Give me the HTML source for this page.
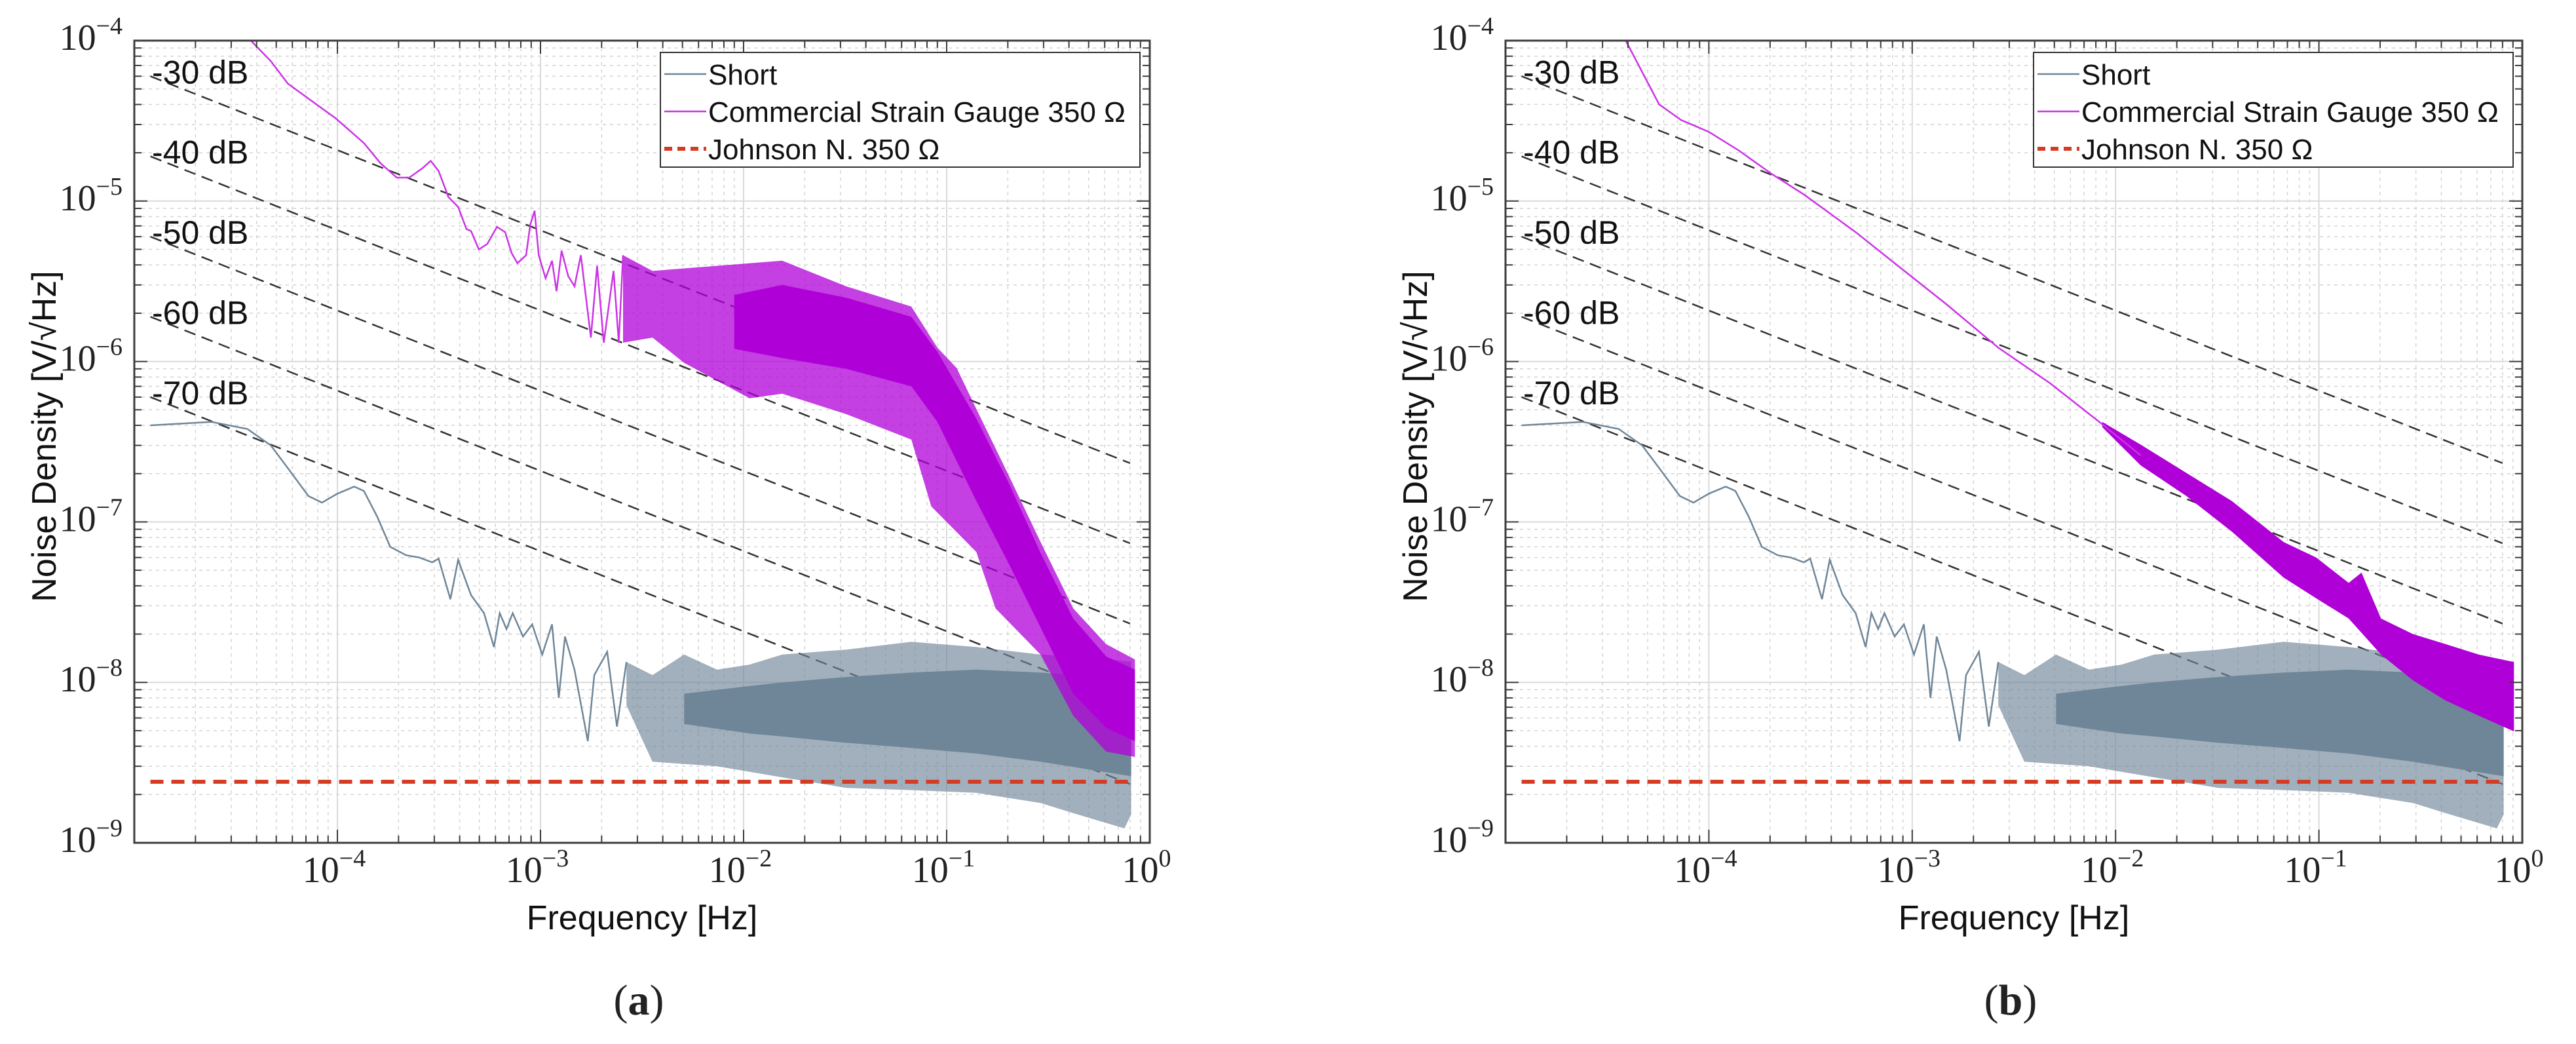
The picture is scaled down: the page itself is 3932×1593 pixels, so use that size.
<!DOCTYPE html>
<html><head><meta charset="utf-8">
<style>
html,body{margin:0;padding:0;background:#fff;}
svg{display:block;}
text{font-family:"Liberation Sans",Arial,sans-serif;fill:#111;}
.serif{font-family:"Liberation Serif","Times New Roman",serif;fill:#222;}
</style></head>
<body>
<svg id="fig" xmlns="http://www.w3.org/2000/svg" width="3932" height="1593" viewBox="0 0 3932 1593"></svg>
<script>
// ---- data (Hz, V/sqrt(Hz)) ----
const xDecades = [-5,-4,-3,-2,-1,0];
const xTickLabels = ["-4","-3","-2","-1","0"];
const yTickLabels = ["-4","-5","-6","-7","-8","-9"];
const dbLabels = ["-30 dB","-40 dB","-50 dB","-60 dB","-70 dB"];
const refStartVals = [6.0e-5,1.9e-5,6.0e-6,1.9e-6,6.0e-7];
const refFreqs = [1.2e-5, 0.8];
const johnsonVal = 2.4e-9;

const shortLineF = [1.2e-5,2.4e-5,3.6e-5,4.7e-5,5.8e-5,7.2e-5,8.4e-5,1.0e-4,1.21e-4,1.35e-4,1.57e-4,1.82e-4,2.18e-4,2.53e-4,2.93e-4,3.15e-4,3.6e-4,3.93e-4,4.55e-4,5.27e-4,5.9e-4,6.3e-4,6.8e-4,7.3e-4,8.2e-4,9.1e-4,1.02e-3,1.14e-3,1.23e-3,1.32e-3,1.47e-3,1.71e-3,1.84e-3,2.13e-3,2.38e-3,2.65e-3];
const shortLineV = [4.0e-7,4.2e-7,3.8e-7,3.0e-7,2.1e-7,1.45e-7,1.32e-7,1.5e-7,1.66e-7,1.56e-7,1.08e-7,7.0e-8,6.2e-8,6.0e-8,5.6e-8,5.9e-8,3.3e-8,5.8e-8,3.5e-8,2.7e-8,1.66e-8,2.7e-8,2.15e-8,2.7e-8,1.93e-8,2.3e-8,1.49e-8,2.3e-8,8.0e-9,1.93e-8,1.2e-8,4.3e-9,1.11e-8,1.55e-8,5.3e-9,1.34e-8];
const shortUpF = [2.65e-3,3.56e-3,5.1e-3,7.4e-3,1.07e-2,1.55e-2,3.2e-2,6.7e-2,0.14,0.29,0.52,0.81];
const shortUpV = [1.34e-8,1.11e-8,1.49e-8,1.2e-8,1.29e-8,1.49e-8,1.6e-8,1.79e-8,1.66e-8,1.49e-8,1.44e-8,1.34e-8];
const shortLoF = [2.65e-3,3.56e-3,7.4e-3,1.55e-2,3.2e-2,6.7e-2,0.14,0.29,0.42,0.75,0.81];
const shortLoV = [7.2e-9,3.2e-9,3.0e-9,2.56e-9,2.2e-9,2.13e-9,2.05e-9,1.77e-9,1.53e-9,1.23e-9,1.5e-9];
const shortCoreF = [5.1e-3,1.07e-2,1.55e-2,3.2e-2,6.7e-2,0.14,0.29,0.81];
const shortCoreTopV = [8.5e-9,9.5e-9,1.0e-8,1.08e-8,1.15e-8,1.2e-8,1.15e-8,1.05e-8];
const shortCoreBotV = [5.5e-9,4.8e-9,4.6e-9,4.2e-9,3.9e-9,3.6e-9,3.2e-9,2.6e-9];

const gaugeALineF = [3.75e-5,4.7e-5,5.7e-5,7.3e-5,9.75e-5,1.35e-4,1.63e-4,1.96e-4,2.26e-4,2.62e-4,2.88e-4,3.15e-4,3.52e-4,3.93e-4,4.32e-4,4.55e-4,4.97e-4,5.47e-4,6.1e-4,6.7e-4,7.2e-4,7.7e-4,8.5e-4,8.9e-4,9.35e-4,9.8e-4,1.06e-3,1.14e-3,1.2e-3,1.27e-3,1.37e-3,1.47e-3,1.58e-3,1.77e-3,1.9e-3,2.05e-3,2.29e-3,2.43e-3,2.55e-3];
const gaugeALineV = [1.0e-4,7.45e-5,5.4e-5,4.3e-5,3.3e-5,2.3e-5,1.72e-5,1.4e-5,1.4e-5,1.6e-5,1.78e-5,1.54e-5,1.06e-5,9.2e-6,6.7e-6,6.5e-6,5.0e-6,5.4e-6,6.9e-6,6.4e-6,4.75e-6,4.1e-6,4.6e-6,7.1e-6,8.7e-6,4.6e-6,3.3e-6,4.25e-6,2.74e-6,4.9e-6,3.4e-6,2.94e-6,4.6e-6,1.41e-6,3.95e-6,1.31e-6,3.67e-6,1.31e-6,4.6e-6];
const gaugeAUpF = [2.55e-3,3.56e-3,7.4e-3,1.55e-2,3.2e-2,6.7e-2,9.0e-2,0.112,0.14,0.202,0.29,0.42,0.61,0.845];
const gaugeAUpV = [4.6e-6,3.67e-6,3.95e-6,4.25e-6,2.94e-6,2.2e-6,1.22e-6,9.1e-7,5.06e-7,1.95e-7,7.5e-8,2.89e-8,1.73e-8,1.39e-8];
const gaugeALoF = [2.55e-3,3.56e-3,5.1e-3,1.07e-2,1.55e-2,3.2e-2,6.7e-2,8.4e-2,0.14,0.174,0.29,0.42,0.61,0.845];
const gaugeALoV = [1.31e-6,1.41e-6,9.8e-7,5.9e-7,6.3e-7,4.7e-7,3.26e-7,1.25e-7,6.5e-8,2.89e-8,1.49e-8,6.2e-9,3.7e-9,3.43e-9];
const gaugeACoreF = [9.0e-3,1.55e-2,3.2e-2,6.7e-2,9.0e-2,0.14,0.202,0.29,0.42,0.61,0.845];
const gaugeACoreTopV = [2.6e-6,3.0e-6,2.5e-6,1.9e-6,1.15e-6,4.4e-7,1.75e-7,6.4e-8,2.5e-8,1.45e-8,1.2e-8];
const gaugeACoreBotV = [1.2e-6,1.05e-6,9.0e-7,7.0e-7,4.2e-7,1.35e-7,5.5e-8,2.2e-8,8.5e-9,5.2e-9,4.3e-9];

const gaugeBLineF = [3.9e-5,5.7e-5,7.3e-5,1.0e-4,1.41e-4,2.03e-4,2.93e-4,5.27e-4,8.2e-4,1.47e-3,2.65e-3,4.78e-3,8.6e-3,1.33e-2];
const gaugeBLineV = [1.0e-4,4.0e-5,3.2e-5,2.7e-5,2.06e-5,1.48e-5,1.1e-5,6.4e-6,4.1e-6,2.28e-6,1.22e-6,7.3e-7,4.06e-7,2.6e-7];
const gaugeBUpF = [8.6e-3,1.33e-2,2.23e-2,3.73e-2,6.7e-2,9.7e-2,0.14,0.162,0.202,0.29,0.42,0.61,0.91];
const gaugeBUpV = [4.2e-7,3.03e-7,2.02e-7,1.35e-7,7.5e-8,6.0e-8,4.17e-8,4.83e-8,2.5e-8,2.0e-8,1.73e-8,1.49e-8,1.34e-8];
const gaugeBLoF = [8.6e-3,1.33e-2,2.23e-2,3.73e-2,6.7e-2,9.7e-2,0.14,0.202,0.29,0.42,0.61,0.91];
const gaugeBLoV = [3.9e-7,2.25e-7,1.45e-7,8.7e-8,4.5e-8,3.34e-8,2.5e-8,1.49e-8,1.03e-8,7.7e-9,6.2e-9,4.95e-9];

const NS = "http://www.w3.org/2000/svg";
const svg = document.getElementById('fig');
function mk(tag, attrs, parent){
  const e = document.createElementNS(NS, tag);
  for (const k in attrs) e.setAttribute(k, attrs[k]);
  (parent||svg).appendChild(e);
  return e;
}

function drawChart(cfg){
  const X0=cfg.x0, Y0=62, W=cfg.w, H=1224;
  const g = mk('g',{});
  
  
  const xs = f => X0 + (Math.log10(f)+5)*W/5;
  const ys = v => Y0 + (-4 - Math.log10(v))*H/5;
  const pts = (F,V) => F.map((f,i)=>xs(f).toFixed(1)+','+ys(V[i]).toFixed(1)).join(' ');

  // grid
  const grid = mk('g',{},g);
  
  
  for (let d=-5; d<0; d++){
    for (let m=2;m<=9;m++){
      const x = xs(m*Math.pow(10,d));
      mk('line',{x1:x,y1:Y0,x2:x,y2:Y0+H,stroke:'#d4d4d4','stroke-width':1.5,'stroke-dasharray':'5 6'},grid);
    }
  }
  for (let d=-9; d<-4; d++){
    for (let m=2;m<=9;m++){
      const y = ys(m*Math.pow(10,d));
      mk('line',{x1:X0,y1:y,x2:X0+W,y2:y,stroke:'#d4d4d4','stroke-width':1.5,'stroke-dasharray':'5 6'},grid);
    }
  }
  xDecades.forEach(d=>{ const x=xs(Math.pow(10,d)); mk('line',{x1:x,y1:Y0,x2:x,y2:Y0+H,stroke:'#dadada','stroke-width':2},grid);});
  for (let d=-9; d<=-4; d++){ const y=ys(Math.pow(10,d)); mk('line',{x1:X0,y1:y,x2:X0+W,y2:y,stroke:'#dadada','stroke-width':2},grid);}

  // reference dB lines
  refStartVals.forEach((a,i)=>{
    const v1 = a*Math.sqrt(refFreqs[0]/refFreqs[1]);
    const l = mk('line',{x1:xs(refFreqs[0]),y1:ys(a),x2:xs(refFreqs[1]),y2:ys(v1),stroke:'#333','stroke-width':2.5,'stroke-dasharray':'18 10'},g);
    
    
    const t = mk('text',{x:X0+27,y:ys(a)+11,'font-size':50},g);
    t.textContent = dbLabels[i];
    
    
  });

  // Short series
  const sc='#6f8698';
  const sEnv = mk('polygon',{points:pts(shortUpF,shortUpV)+' '+pts(shortLoF.slice().reverse(),shortLoV.slice().reverse()),fill:sc,'fill-opacity':0.65},g);
  
  
  const sCore = mk('polygon',{points:pts(shortCoreF,shortCoreTopV)+' '+pts(shortCoreF.slice().reverse(),shortCoreBotV.slice().reverse()),fill:sc},g);
  
  
  const sLine = mk('polyline',{points:pts(shortLineF,shortLineV),fill:'none',stroke:sc,'stroke-width':2.5},g);
  
  

  // Gauge series
  const mc='#b000d8';
  const mEnv = mk('polygon',{points:pts(cfg.gUpF,cfg.gUpV)+' '+pts(cfg.gLoF.slice().reverse(),cfg.gLoV.slice().reverse()),fill:mc,'fill-opacity':cfg.envOp},g);
  
  
  if (cfg.gCoreF){
    const mCore = mk('polygon',{points:pts(cfg.gCoreF,cfg.gCoreTopV)+' '+pts(cfg.gCoreF.slice().reverse(),cfg.gCoreBotV.slice().reverse()),fill:mc},g);
    
    
  }
  const mLine = mk('polyline',{points:pts(cfg.gLineF,cfg.gLineV),fill:'none',stroke:'#cc33e6','stroke-width':2.5},g);
  
  

  // Johnson
  const jl = mk('line',{x1:xs(refFreqs[0]),y1:ys(johnsonVal),x2:xs(refFreqs[1]),y2:ys(johnsonVal),stroke:'#d53a22','stroke-width':6,'stroke-dasharray':'20 12'},g);
  
  

  // axes box + ticks
  const ax = mk('g',{},g);
  
  
  mk('rect',{x:X0,y:Y0,width:W,height:H,fill:'none',stroke:'#3c3c3c','stroke-width':3},ax);
  for (let d=-5; d<=0; d++){
    for (let m=1;m<=9;m++){
      if (d===0 && m>1) break;
      const x=xs(m*Math.pow(10,d)), L = m===1?20:11;
      mk('line',{x1:x,y1:Y0+H,x2:x,y2:Y0+H-L,stroke:'#3c3c3c','stroke-width':2},ax);
      mk('line',{x1:x,y1:Y0,x2:x,y2:Y0+L,stroke:'#3c3c3c','stroke-width':2},ax);
    }
  }
  for (let d=-9; d<=-4; d++){
    for (let m=1;m<=9;m++){
      if (d===-4 && m>1) break;
      const y=ys(m*Math.pow(10,d)), L = m===1?20:11;
      mk('line',{x1:X0,y1:y,x2:X0+L,y2:y,stroke:'#3c3c3c','stroke-width':2},ax);
      mk('line',{x1:X0+W,y1:y,x2:X0+W-L,y2:y,stroke:'#3c3c3c','stroke-width':2},ax);
    }
  }
  // tick labels
  xTickLabels.forEach(s=>{
    const t = mk('text',{x:xs(Math.pow(10,+s))-5,y:Y0+H+60,'text-anchor':'middle','font-size':56,class:'serif'},g);
    t.innerHTML = '10<tspan dy="-24" font-size="38">'+(s==='0'?'0':'−'+s.slice(1))+'</tspan>';
    
    
  });
  yTickLabels.forEach(s=>{
    const t = mk('text',{x:X0-18,y:ys(Math.pow(10,+s))+14,'text-anchor':'end','font-size':56,class:'serif'},g);
    t.innerHTML = '10<tspan dy="-24" font-size="38">−'+s.slice(1)+'</tspan>';
    
    
  });
  // axis titles
  const xt = mk('text',{x:X0+W/2,y:1418,'text-anchor':'middle','font-size':52},g);
  xt.textContent='Frequency [Hz]';
  
  
  const yt = mk('text',{x:0,y:0,'text-anchor':'middle','font-size':52,transform:'translate('+(X0-120)+',666) rotate(-90)'},g);
  yt.textContent='Noise Density [V/√Hz]';
  
  
  const cap = mk('text',{x:X0+W/2-5,y:1548,'text-anchor':'middle','font-size':66,'font-weight':'bold',class:'serif'},g);
  cap.innerHTML='<tspan font-weight="normal">(</tspan>'+cfg.cap+'<tspan font-weight="normal">)</tspan>';
  
  

  // legend
  const lg = mk('g',{},g);
  
  
  const LX = X0+cfg.legDx, LY=80;
  mk('rect',{x:LX,y:LY,width:732,height:175,fill:'#fff',stroke:'#333','stroke-width':2},lg);
  const entries = [['Short',sc,'none',2.5],['Commercial Strain Gauge 350 Ω','#cc33e6','none',2.5],['Johnson N. 350 Ω','#d53a22','12 8',6]];
  entries.forEach((e,i)=>{
    const ey = LY+33+i*57;
    const le = mk('g',{},lg);
    
    
    mk('line',{x1:LX+6,y1:ey,x2:LX+70,y2:ey,stroke:e[1],'stroke-width':e[3],'stroke-dasharray':e[2]},le);
    const t = mk('text',{x:LX+73,y:ey+16,'font-size':44},le);
    t.textContent = e[0];
  });
}

drawChart({name:'chart-a',x0:205,w:1550,cap:'a',legDx:803,
  gLineF:gaugeALineF,gLineV:gaugeALineV,gUpF:gaugeAUpF,gUpV:gaugeAUpV,gLoF:gaugeALoF,gLoV:gaugeALoV,
  gCoreF:gaugeACoreF,gCoreTopV:gaugeACoreTopV,gCoreBotV:gaugeACoreBotV,envOp:0.75});
drawChart({name:'chart-b',x0:2298,w:1552,cap:'b',legDx:806,
  gLineF:gaugeBLineF,gLineV:gaugeBLineV,gUpF:gaugeBUpF,gUpV:gaugeBUpV,gLoF:gaugeBLoF,gLoV:gaugeBLoV,
  gCoreF:null,envOp:1});
</script>
</body></html>
